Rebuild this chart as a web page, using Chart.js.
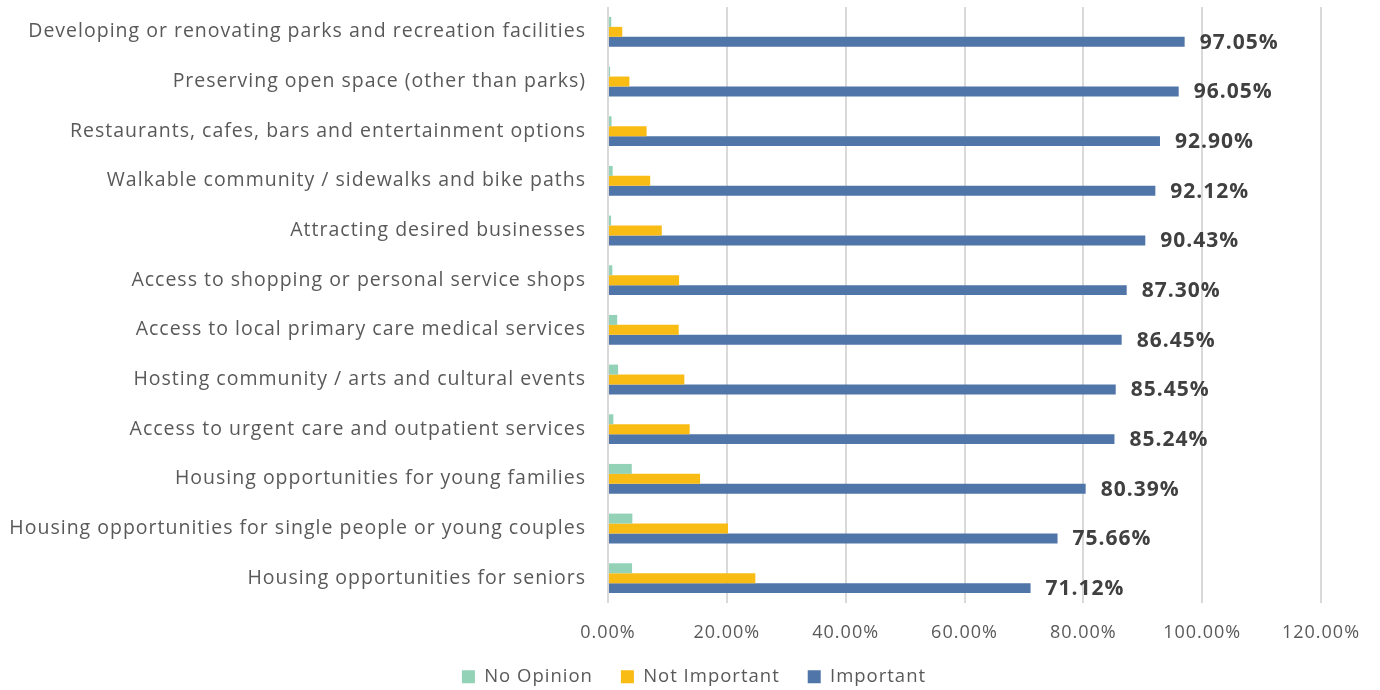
<!DOCTYPE html>
<html>
<head>
<meta charset="utf-8">
<script src="https://cdn.jsdelivr.net/npm/chart.js@4/dist/chart.umd.min.js"></script>
<style>
  html, body { margin: 0; padding: 0; background: #ffffff; }
  #wrap { width: 1380px; height: 690px; position: relative; }
</style>
</head>
<body>
<div id="wrap"><canvas id="c"></canvas></div>
<script>
const categories = [
  "Developing or renovating parks and recreation facilities",
  "Preserving open space (other than parks)",
  "Restaurants, cafes, bars and entertainment options",
  "Walkable community / sidewalks and bike paths",
  "Attracting desired businesses",
  "Access to shopping or personal service shops",
  "Access to local primary care medical services",
  "Hosting community / arts and cultural events",
  "Access to urgent care and outpatient services",
  "Housing opportunities for young families",
  "Housing opportunities for single people or young couples",
  "Housing opportunities for seniors"
];
const noOpinion    = [0.55, 0.35, 0.6, 0.78, 0.52, 0.73, 1.55, 1.7, 0.9, 4.0, 4.1, 4.05];
const notImportant = [2.4, 3.6, 6.5, 7.1, 9.05, 11.97, 11.9, 12.85, 13.75, 15.5, 20.2, 24.8];
const important    = [97.05, 96.05, 92.90, 92.12, 90.43, 87.30, 86.45, 85.45, 85.24, 80.39, 75.66, 71.12];
const xTicks = [0, 20, 40, 60, 80, 100, 120];
const seriesNames = ["No Opinion", "Not Important", "Important"];

const FONT = "'Open Sans', 'Noto Sans', sans-serif";
const LETTER_SPACING = '1px';

const spacing = {
  id: 'spacing',
  beforeInit(chart) { chart.ctx.letterSpacing = LETTER_SPACING; },
  beforeUpdate(chart) { chart.ctx.letterSpacing = LETTER_SPACING; },
  beforeLayout(chart) { chart.ctx.letterSpacing = LETTER_SPACING; },
  beforeDraw(chart) { chart.ctx.letterSpacing = LETTER_SPACING; }
};

const valueLabels = {
  id: 'valueLabels',
  afterDatasetsDraw(chart) {
    const ctx = chart.ctx;
    const meta = chart.getDatasetMeta(2);
    ctx.save();
    ctx.letterSpacing = LETTER_SPACING;
    ctx.font = "bold 21px " + FONT;
    ctx.fillStyle = '#404040';
    ctx.textAlign = 'left';
    ctx.textBaseline = 'middle';
    meta.data.forEach((bar, i) => {
      const v = chart.data.datasets[2].data[i];
      ctx.fillText(v.toFixed(2) + '%', bar.x + 15, bar.y + 1);
    });
    ctx.restore();
  }
};

new Chart(document.getElementById('c'), {
  type: 'bar',
  data: {
    labels: categories,
    datasets: [
      { label: seriesNames[0], data: noOpinion, backgroundColor: '#93d2b7' },
      { label: seriesNames[1], data: notImportant, backgroundColor: '#f9bc15' },
      { label: seriesNames[2], data: important, backgroundColor: '#5075a8' }
    ]
  },
  options: {
    indexAxis: 'y',
    responsive: true,
    maintainAspectRatio: false,
    animation: false,
    devicePixelRatio: 1,
    datasets: { bar: { categoryPercentage: 0.6, barPercentage: 1.0 } },
    layout: { padding: { top: 7, right: 0, bottom: -6, left: 8 } },
    scales: {
      x: {
        min: 0, max: 120,
        afterBuildTicks(scale) { scale.ticks = xTicks.map(v => ({ value: v })); },
        afterFit(scale) { scale.height = 36.5; scale.paddingRight = 59; },
        ticks: {
          callback: v => Number(v).toFixed(2) + '%',
          color: '#595959',
          font: { family: FONT, size: 18 },
          padding: 19
        },
        grid: { color: '#d9d9d9', lineWidth: 2, drawTicks: false },
        border: { display: false }
      },
      y: {
        afterFit(scale) { scale.width = 600; scale.paddingTop = 0; scale.paddingBottom = 0; },
        ticks: {
          color: '#595959',
          font: { family: FONT, size: 19.5 },
          padding: 22
        },
        grid: { display: false, drawTicks: false },
        border: { display: false }
      }
    },
    plugins: {
      legend: {
        position: 'bottom',
        labels: {
          color: '#595959',
          font: { family: FONT, size: 18.5 },
          boxWidth: 13, boxHeight: 13,
          padding: 28
        }
      },
      tooltip: { enabled: false }
    }
  },
  plugins: [spacing, valueLabels]
});
</script>
</body>
</html>
